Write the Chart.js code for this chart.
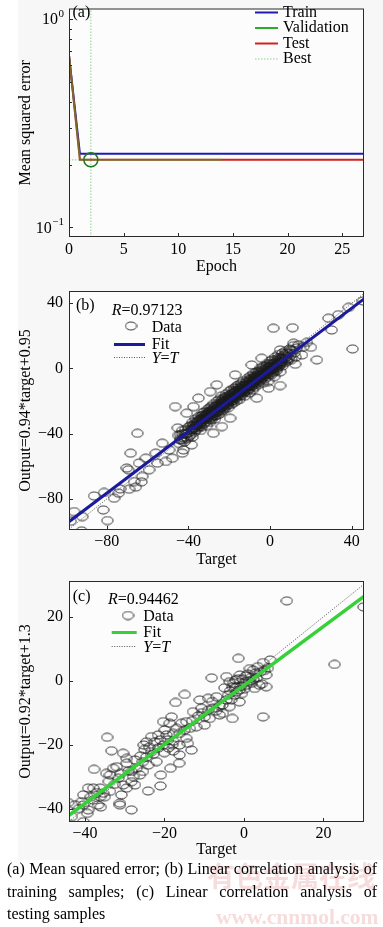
<!DOCTYPE html>
<html>
<head>
<meta charset="utf-8">
<title>Network performance and regression</title>
<script src="https://cdn.jsdelivr.net/npm/chart.js@4.4.1/dist/chart.umd.min.js"></script>
<style>
  html, body { margin: 0; padding: 0; background: #fff; }
  body { position: relative; width: 383px; height: 927px; overflow: hidden; font-family: "Liberation Serif", "Times New Roman", serif; }
  canvas { position: absolute; left: 0; }
  #mark { position: absolute; left: 207px; top: 861px; font: bold 28px/28px "Noto Sans CJK SC"; color: #f6dcdc; white-space: nowrap; }
  #mark2 { position: absolute; left: 216px; top: 906px; font: bold 21.5px/22px "Liberation Serif"; color: #f6dcdc; white-space: nowrap; }
  #caption { position: absolute; left: 7px; top: 858px; width: 370px; font-size: 16px; line-height: 22.5px; color: #000; }
  #caption div { text-align: justify; text-align-last: justify; white-space: nowrap; }
  #caption div.last { text-align-last: left; }
</style>
</head>
<body>
<canvas id="mse" width="383" height="285" style="top:0"></canvas>
<canvas id="train" width="383" height="290" style="top:285px"></canvas>
<canvas id="test" width="383" height="285" style="top:575px"></canvas>
<div id="mark">有色金属在线</div>
<div id="mark2">www.cnnmol.com</div>
<div id="caption">
  <div>(a) Mean squared error; (b) Linear correlation analysis of</div>
  <div>training samples; (c) Linear correlation analysis of</div>
  <div class="last">testing samples</div>
</div>
<script>
// (a) performance curves
const epochs = [0, 1, 2, 3, 4, 5, 6, 7, 8, 9, 10, 11, 12, 13, 14, 15, 16, 17, 18, 19, 20, 21, 22, 23, 24, 25, 26, 27];
const trainMse = [0.67, 0.226, 0.226, 0.226, 0.226, 0.226, 0.226, 0.226, 0.226, 0.226, 0.226, 0.226, 0.226, 0.226,
  0.226, 0.226, 0.226, 0.226, 0.226, 0.226, 0.226, 0.226, 0.226, 0.226, 0.226, 0.226, 0.226, 0.226];
const validMse = [0.67, 0.211, 0.211, 0.211, 0.211, 0.211, 0.211, 0.211, 0.211, 0.211, 0.211, 0.211, 0.211, 0.211, 0.211];
const testMse = [0.67, 0.211, 0.211, 0.211, 0.211, 0.211, 0.211, 0.211, 0.211, 0.211, 0.211, 0.211, 0.211, 0.211,
  0.211, 0.211, 0.211, 0.211, 0.211, 0.211, 0.211, 0.211, 0.211, 0.211, 0.211, 0.211, 0.211, 0.211];
const bestEpoch = 2;
const bestMse = 0.211;
const epochTicks = [0, 5, 10, 15, 20, 25];
const mseTicks = [0.1, 0.2, 0.3, 0.4, 0.5, 0.6, 0.7, 0.8, 0.9, 1];

// (b) training samples [target, output]
const trainPoints = [
  [-97.7, -93.6], [-96, -87.7], [-92, -90.8], [-92.3, -99.5], [-86.2, -78.1], [-81.3, -76], [-81.7, -86.7],
  [-79.7, -93.2], [-76.4, -79.5], [-74.2, -76.4], [-73.5, -73.8], [-69.1, -74], [-70.2, -61], [-69.4, -62.1],
  [-68.3, -51.9], [-66.6, -69.3], [-65.8, -72.7], [-65, -39.7], [-64.2, -58], [-63, -69.5], [-62.6, -66.2],
  [-60.9, -55], [-59.3, -62.1], [-56, -51.9], [-55.2, -58], [-52.8, -45.8], [-51.1, -57], [-49.5, -49.9],
  [-47.9, -55], [-46.5, -23.4], [-45.2, -36.4], [-43.7, -43.8], [-43, -51.9], [-42.5, -49.9], [-41.3, -39.7],
  [-38.4, -46.8],
  [45.5, 41.4], [40.4, 12], [38.5, 37.5], [33.5, 33], [28.6, 30.8], [30.2, 23.6], [22.9, 5.3], [16.4, 13.4],
  [15.6, 8.3], [12.3, 2.6], [11.5, 15.5], [11, 25], [1.6, 24.7], [4.9, 11.4], [4.9, -10.5], [-0.8, -12.1],
  [-6.5, -18.2], [-4.1, 6.3], [-9, 2.2], [-17.1, -3.9], [-26.1, -10], [-29.4, -14.2], [-35.1, -18.2],
  [-37.5, -23.4], [-40.8, -27.4], [-27.8, -39.7], [-23.6, -35.6], [-19.6, -30.5], [14, 14.5], [18, 16], [20, 13],
  [-45, -41], [-44.5, -46], [-44, -40.5], [-43.5, -44], [-43, -38], [-42.5, -42.5], [-42, -45], [-41.5, -37.5],
  [-41, -40], [-40.5, -43], [-40, -36], [-40, -39.5], [-39.5, -41.5], [-39, -35], [-38.5, -38], [-38, -42],
  [-38, -33], [-37.5, -36.5], [-37, -39], [-36.5, -31], [-36.5, -35], [-36, -37.5], [-35.5, -33], [-35, -36],
  [-35, -29.5], [-34.5, -31.5], [-34, -35], [-34, -38], [-33.5, -29], [-33, -32], [-33, -27], [-32.5, -34],
  [-32, -30], [-32, -26.5], [-31.5, -31], [-31, -28], [-31, -35], [-30.5, -25], [-30.5, -29.5], [-30, -31.5],
  [-30, -27], [-29.5, -24], [-29.5, -33], [-29, -28.5], [-29, -26], [-28.5, -30], [-28.5, -23], [-28, -27],
  [-28, -25], [-27.5, -29], [-27.5, -21.5], [-27, -25.5], [-27, -31], [-26.5, -23], [-26.5, -27], [-26, -20],
  [-26, -24.5], [-25.5, -26], [-25.5, -28.5], [-25, -22], [-25, -19], [-24.5, -24], [-24.5, -27.5], [-24, -21],
  [-24, -17], [-23.5, -23.5], [-23.5, -26], [-23, -20], [-23, -18.5], [-22.5, -22], [-22.5, -25], [-22, -17.5],
  [-22, -20.5], [-21.5, -23], [-21.5, -15.5], [-21, -19], [-21, -21.5], [-20.5, -17], [-20.5, -24], [-20, -14],
  [-20, -18.5], [-19.5, -20.5], [-19.5, -16], [-19, -22], [-19, -13], [-18.5, -17.5], [-18.5, -19.5], [-18, -15],
  [-18, -21], [-17.5, -12], [-17.5, -16.5], [-17, -18], [-17, -14], [-16.5, -20], [-16.5, -11], [-16, -15.5],
  [-16, -17], [-15.5, -13], [-15.5, -10], [-15, -16], [-15, -19], [-14.5, -12], [-14.5, -14.5], [-14, -9],
  [-14, -16.5], [-13.5, -13], [-13.5, -11], [-13, -15], [-13, -7.5], [-12.5, -12], [-12.5, -17], [-12, -10],
  [-12, -13.5], [-11.5, -8], [-11.5, -11.5], [-11, -14], [-11, -6], [-10.5, -10.5], [-10.5, -12.5], [-10, -7],
  [-10, -15], [-9.5, -9.5], [-9.5, -4.5], [-9, -11], [-9, -8], [-8.5, -13], [-8.5, -6], [-8, -9], [-8, -3],
  [-7.5, -7.5], [-7.5, -11.5], [-7, -5], [-7, -9.5], [-6.5, -2], [-6.5, -7], [-6, -10], [-6, -4], [-5.5, -6],
  [-5.5, -8.5], [-5, -1.5], [-5, -4.5], [-4.5, -7.5], [-4.5, 0.5], [-4, -3.5], [-4, -6], [-3.5, -1], [-3.5, -9],
  [-3, -4], [-3, 1.5], [-2.5, -2.5], [-2.5, -6.5], [-2, 0], [-2, -3], [-1.5, 3], [-1.5, -5], [-1, -1.5], [-1, -8],
  [-0.5, 1], [-0.5, -3.5], [0, 4.5], [0, -1], [0.5, -4], [0.5, 2], [1, -0.5], [1, 5.5], [1.5, 1.5], [1.5, -2.5],
  [2, 3.5], [2, -5], [2.5, 0.5], [2.5, 7], [3, 2], [3, -1.5], [3.5, 5], [4, 1], [4, 8.5], [4.5, 3.5], [5, -2],
  [5, 6], [5.5, 4], [6, 9.5], [6, 1.5], [6.5, 6.5], [7, 3.5], [7.5, 10.5], [8, 7], [8.5, 4.5], [9, 9], [9.5, 12],
  [10, 8], [10.5, 5.5], [11, 11], [11.5, 14], [12, 9.5], [13, 12.5], [12.5, 7],
  [-38, -37], [-37.5, -34.5], [-37, -36.5], [-36.5, -33.5], [-36, -35], [-35.5, -34.5], [-35, -32.5], [-34.5, -34],
  [-34, -31], [-33.5, -33], [-33, -30.5], [-32.5, -31], [-32, -29], [-31.5, -28.5], [-31, -30.5], [-30.5, -27.5],
  [-30, -29], [-29.5, -28], [-29, -26.5], [-28.5, -27.5], [-28, -29], [-27.5, -25], [-27, -27], [-26.5, -25.5],
  [-26, -26.5], [-25.5, -23], [-25, -25], [-24.5, -22.5], [-24, -23.5], [-23.5, -21], [-23, -22.5], [-22.5, -20],
  [-22, -22], [-21.5, -19.5], [-21, -20.5], [-20.5, -20], [-20, -19.5], [-19.5, -17.5], [-19, -18.5], [-18.5, -16],
  [-18, -18], [-17.5, -15], [-17, -16.5], [-16.5, -14], [-16, -16], [-15.5, -15], [-15, -13.5], [-14.5, -15],
  [-14, -12.5], [-13.5, -14], [-13, -11.5], [-12.5, -10.5], [-12, -12], [-11.5, -10], [-11, -11], [-10.5, -8.5],
  [-10, -10], [-9.5, -11], [-9, -7.5], [-8.5, -9], [-8, -7], [-7.5, -5.5], [-7, -7.5], [-6.5, -5], [-6, -6.5],
  [-5.5, -3.5], [-5, -6], [-4.5, -4.5], [-4, -2], [-3.5, -4.5], [-3, -2.5], [-2.5, -1], [-2, -3.5], [-1.5, -1],
  [-1, 0.5], [-0.5, -1.5], [0, 1], [0.5, -0.5], [1, 2.5], [1.5, 0], [2, 1.5], [2.5, 3.5], [3, 0.5], [3.5, 2.5],
  [4, 4], [4.5, 2], [5, 4.5], [5.5, 6], [6, 4], [7, 6], [8, 5.5],
  [-44, -43], [-42.8, -40], [-41.2, -42], [-39.8, -38], [-38.8, -40.5], [-37.8, -35], [-36.8, -37.5], [-35.8, -32],
  [-34.8, -34.5], [-33.8, -36], [-32.8, -28.5], [-31.8, -33], [-30.8, -30], [-29.8, -26], [-28.8, -31.5],
  [-27.8, -26.5], [-26.8, -29], [-25.8, -22], [-24.8, -26], [-23.8, -19.5], [-22.8, -24], [-21.8, -18],
  [-20.8, -22.5], [-19.8, -16.5], [-18.8, -20], [-17.8, -14], [-16.8, -18.5], [-15.8, -12], [-14.8, -17],
  [-13.8, -10.5], [-12.8, -14.5], [-11.8, -9], [-10.8, -13], [-9.8, -6.5], [-8.8, -10.5], [-7.8, -4.5], [-6.8, -8],
  [-5.8, -2.5], [-4.8, -7], [-3.8, 0], [-2.8, -5], [-1.8, 1.5], [-0.8, -2.5], [0.2, 3], [1.2, -2], [2.2, 5],
  [3.2, -0.5], [4.2, 6.5], [5.2, 2.5], [6.2, 7.5], [7.2, 8.5], [8.2, 9.5], [9.2, 6], [10.2, 11.5], [-33.2, -31],
  [-27.2, -23.5], [-23.2, -22], [-19.2, -18], [-15.2, -14], [-11.2, -12], [-7.2, -6], [-3.2, -3], [0.8, 0],
  [-29.2, -30.5], [-25.2, -24.5], [-21.2, -20], [-17.2, -17], [-13.2, -13], [-9.2, -9], [-5.2, -5], [-1.2, -1.5],
  [2.8, 2]
];
const trainFitX = [-98.5, 46];
const trainFitY = [-93.9, 42.6];
const trainR = '0.97123';
const trainTicks = [-80, -40, 0, 40];

// (c) testing samples [target, output]
const testPoints = [
  [10.8, 25], [30.1, 23.1], [22.8, 5.1], [4.8, -11.3], [-1.4, 7], [-8.1, 0.9], [-14.9, -4.3], [-17.2, -6.8],
  [-34.4, -17.7], [-33.3, -21.9], [-37.7, -27.7], [-44.2, -38.1], [-40.4, -44.1], [-28.3, -40.4], [-24.1, -34.5],
  [-21, -32.9], [-20.9, -29.5], [-18.5, -27.4], [-16.3, -25.8], [-16.2, -23.2], [-31.2, -38.3],
  [1, 2.1], [2.3, 3.3], [3.5, 4.4], [4.8, 5.7], [6.6, 6.5], [5.6, 1.8], [3.9, -1.4], [0.6, -1.4], [-1.1, -2.9],
  [-2.8, -1.9], [-3.2, -6], [-2.9, -11.8], [-5.3, -10.2], [-6.1, -7.8], [-6.9, -5], [-9.9, -11.3], [-9, -9.2],
  [-10.7, -8.6], [-9, -5.5], [-4.9, -2.2], [-3.6, -0.3], [-2.1, 0.2], [-0.3, 0.5], [2.4, 0.5], [1.3, -0.1],
  [2.7, -2.4], [5.6, -1.9], [-4.4, 1.3], [6, 3.9],
  [-16.2, -16.5], [-17.8, -18.9], [-17.8, -22], [-20.3, -20.1], [-22.4, -19.1], [-24.5, -19.1], [-25.2, -20.1],
  [-24.1, -26.4], [-25.4, -25.3], [-27.4, -24.8], [-22, -25.3], [-19.9, -15.4], [-18.7, -13.3], [-18.2, -11.3],
  [-20.3, -12.8], [-21.6, -17], [-23.3, -17.5], [-14.5, -12.8], [-13.6, -14.9], [-12.8, -9.7], [-11.1, -6],
  [-14.5, -18], [-13.2, -21.7], [-14.1, -19.6], [-16.2, -20.1], [-15.7, -13.3], [-17, -14.9], [-19.5, -17],
  [-19.1, -18.5], [-17.8, -16.5], [-12, -14.4], [-9.9, -13.9], [-8.6, -11.8], [-7.8, -8.6], [-6.1, -10.7],
  [-5.4, -7.6], [-4.4, -6], [-3.6, -8.1], [-2.3, -4.5], [-1.1, -6.6],
  [-28.3, -28.4], [-29.5, -25.8], [-29.5, -24.3], [-30.4, -22.7], [-32, -26.9], [-32.9, -27.4], [-33.7, -29.5],
  [-34.6, -29], [-27.9, -30], [-27.4, -32.6], [-29.5, -33.6], [-30.4, -32.6], [-31.6, -30.5], [-28.3, -31.6],
  [-26.2, -29.5], [-27, -27.4], [-25.4, -28.4], [-24.5, -23.8], [-23.3, -22.2], [-35.4, -35.2], [-36.2, -36.3],
  [-36.7, -38.9], [-37.9, -37.3], [-39.2, -33.6], [-37.9, -33.6], [-40.4, -35.7], [-40.4, -38.9], [-39.2, -40.4],
  [-39.4, -41.5], [-40.8, -37.8], [-31.2, -38.9], [-33.7, -34.6], [-36.2, -33.6], [-35, -36.3], [-32.5, -32.4],
  [-30.8, -35.7], [-43.3, -42.5],
  [-1.8, -3.5], [-0.8, -1.8], [0.2, -2.5], [-2.5, -0.8], [1.8, 1], [3, 2.5], [-1.5, 0.5], [0.5, 1.5], [-3.5, -3.2],
  [-0.5, -4], [2, -0.8], [4.2, 2.8], [-2, -2], [1.5, 3.8], [-4, -4.5], [3.2, 0.8], [0, -0.8], [-1, 1.8], [4.5, -1],
  [5.2, 3.2], [-21.5, -21], [-20, -22.5], [-19, -21], [-18, -20], [-22.8, -23], [-21, -18.5], [-15, -15.5],
  [-13, -12.5], [-11.5, -11], [-10.5, -10], [-8, -6.5], [-7, -9.5], [-25, -21.5], [-26, -23.5], [-23.8, -20.8],
  [-38.5, -36.3], [-37, -35], [-41.5, -40], [-42.5, -38.8], [-36, -39.5], [-34, -31.5], [-31, -29], [-29, -28.2]
];
const testFitX = [-44, 30.2];
const testFitY = [-42.1, 26.4];
const testR = '0.94462';
const testTicks = [-40, -20, 0, 20];

const serif = '"Liberation Serif", "Times New Roman", serif';
const mseMin = 0.0899, mseMax = 1.125;

// open ellipse used as the data marker
function ring() {
  const c = document.createElement('canvas');
  c.width = 13; c.height = 10;
  const g = c.getContext('2d');
  g.strokeStyle = 'rgba(30,30,30,0.9)';
  g.lineWidth = 1;
  g.beginPath();
  g.ellipse(6.5, 5, 5.6, 4, 0, 0, Math.PI * 2);
  g.stroke();
  return c;
}
const ringMark = ring();

function put(ctx, str, x, y, opt = {}) {
  ctx.font = (opt.italic ? 'italic ' : '') + (opt.size || 16) + 'px ' + serif;
  ctx.fillStyle = opt.color || '#000';
  ctx.textAlign = opt.align || 'left';
  ctx.textBaseline = 'middle';
  ctx.fillText(str, x, y);
  return x + ctx.measureText(str).width;
}

function seg(ctx, x0, x1, y, color, width, dash) {
  ctx.save();
  ctx.strokeStyle = color;
  ctx.lineWidth = width;
  ctx.setLineDash(dash || []);
  ctx.beginPath();
  ctx.moveTo(x0, y);
  ctx.lineTo(x1, y);
  ctx.stroke();
  ctx.restore();
}

const minus = v => (v < 0 ? '\u2212' + Math.abs(v) : String(v));

function axis(min, max, ticks, title, size, titlePad, horizontal, labelPad) {
  return {
    type: 'linear', min: min, max: max,
    afterBuildTicks: s => { s.ticks = ticks.map(v => ({ value: v })); },
    afterFit: s => {
      if (horizontal) s.height = size; else s.width = size;
      s.paddingLeft = s.paddingRight = s.paddingTop = s.paddingBottom = 0;
    },
    grid: { display: false, drawTicks: false },
    border: { display: false },
    ticks: { color: '#000', font: { family: serif, size: 16 }, padding: labelPad, maxRotation: 0, autoSkip: false, callback: minus },
    title: { display: true, text: title, color: '#000', font: { family: serif, size: 16 }, padding: titlePad }
  };
}

// background, box and inward tick marks
const framePlugin = {
  id: 'frame',
  beforeDraw(chart) {
    const { ctx, chartArea: a, width, height } = chart;
    ctx.save();
    ctx.fillStyle = '#f7f7f7';
    ctx.fillRect(18, 0, width - 18, height);
    ctx.fillStyle = '#fcfcfc';
    ctx.fillRect(a.left, a.top, a.right - a.left, a.bottom - a.top);
    ctx.restore();
  },
  afterDraw(chart) {
    const { ctx, chartArea: a, scales } = chart;
    ctx.save();
    ctx.strokeStyle = '#2a2a2a';
    ctx.lineWidth = 1;
    ctx.strokeRect(a.left + 0.5, a.top + 0.5, a.right - a.left - 1, a.bottom - a.top - 1);
    ctx.beginPath();
    scales.x.ticks.forEach(t => {
      const px = Math.round(scales.x.getPixelForValue(t.value)) + 0.5;
      ctx.moveTo(px, a.bottom);
      ctx.lineTo(px, a.bottom - 4);
    });
    scales.y.ticks.forEach(t => {
      const py = Math.round(scales.y.getPixelForValue(t.value)) + 0.5;
      const len = scales.y.type === 'logarithmic' && t.value !== 0.1 && t.value !== 1 ? 3 : 4;
      ctx.moveTo(a.left, py);
      ctx.lineTo(a.left + len, py);
    });
    ctx.stroke();
    ctx.restore();
  }
};

const baseOptions = (top) => ({
  responsive: false,
  animation: false,
  events: [],
  layout: { padding: { top: top, right: 19, left: 0, bottom: 0 } },
  plugins: { legend: { display: false }, tooltip: { enabled: false } }
});

// ---------- (a) mean squared error ----------
const xy = (xs, ys) => ys.map((v, i) => ({ x: xs[i], y: v }));
const perfSeries = [
  { label: 'Train', color: '#1c1cb0' },
  { label: 'Validation', color: '#2eaa2e' },
  { label: 'Test', color: '#d22222' },
  { label: 'Best', color: '#8fd08f', dash: [1.5, 1.5] }
];

new Chart(document.getElementById('mse'), {
  type: 'scatter',
  data: {
    datasets: [
      { label: 'Train', data: xy(epochs, trainMse), showLine: true, borderColor: '#1c1cb0', borderWidth: 2, pointRadius: 0, order: 4 },
      { label: 'Test', data: xy(epochs, testMse), showLine: true, borderColor: '#d22222', borderWidth: 2, pointRadius: 0, order: 3 },
      { label: 'Validation', data: xy(epochs, validMse), showLine: true, borderColor: 'rgba(46,170,46,0.5)', borderWidth: 2, pointRadius: 0, order: 2 },
      { label: 'Best', data: [{ x: epochs[0], y: bestMse }, { x: epochs[epochs.length - 1], y: bestMse }], showLine: true,
        borderColor: '#8fd08f', borderWidth: 1, borderDash: [1.5, 1.5], pointRadius: 0, order: 6 },
      { label: 'Best epoch', data: [{ x: bestEpoch, y: mseMin }, { x: bestEpoch, y: mseMax }], showLine: true,
        borderColor: '#8fd08f', borderWidth: 1, borderDash: [1.5, 1.5], pointRadius: 0, order: 6 },
      { label: 'Best point', data: [{ x: bestEpoch, y: bestMse }], pointRadius: 7, pointBorderColor: '#1a7a1a',
        pointBorderWidth: 1.5, pointBackgroundColor: 'rgba(0,0,0,0)', order: 1 }
    ]
  },
  options: Object.assign(baseOptions(1), {
    scales: {
      x: axis(0, 27, epochTicks, 'Epoch', 48, { top: 0, bottom: 8.7 }, true, 3),
      y: {
        type: 'logarithmic', min: mseMin, max: mseMax,
        afterBuildTicks: s => { s.ticks = mseTicks.map(v => ({ value: v })); },
        afterFit: s => { s.width = 69; s.paddingLeft = s.paddingRight = s.paddingTop = s.paddingBottom = 0; },
        grid: { display: false, drawTicks: false },
        border: { display: false },
        ticks: { display: false },
        title: { display: true, text: 'Mean squared error', color: '#000', font: { family: serif, size: 16 }, padding: { top: 16.4, bottom: 0 } }
      }
    }
  }),
  plugins: [framePlugin, {
    id: 'perfNotes',
    afterDraw(chart) {
      const { ctx, scales: { y } } = chart;
      ctx.save();
      put(ctx, '(a)', 72.5, 13);
      [[1, '0'], [0.1, '\u22121']].forEach(([v, e]) => {
        const py = y.getPixelForValue(v);
        ctx.font = '11px ' + serif;
        const w = ctx.measureText(e).width;
        put(ctx, e, 64, py - 5, { size: 11, align: 'right' });
        put(ctx, '10', 64 - w - 0.5, py + 1, { align: 'right' });
      });
      const rows = [12.5, 28, 43.5, 59];
      perfSeries.forEach((s, i) => {
        seg(ctx, 255, 278, rows[i], s.color, s.dash ? 1 : 2, s.dash);
        put(ctx, s.label, 283, rows[i]);
      });
      ctx.restore();
    }
  }]
});

// ---------- (b), (c) regression plots ----------
function regression(id, points, fitX, fitY, r, fitColor, lim, ticks, sizes, notes) {
  const span = [Math.max(lim.x[0], lim.y[0]), Math.min(lim.x[1], lim.y[1])];
  new Chart(document.getElementById(id), {
    type: 'scatter',
    data: {
      datasets: [
        { label: 'Data', data: points.map(p => ({ x: p[0], y: p[1] })), pointStyle: ringMark, pointRadius: 5, order: 3 },
        { label: 'Y=T', data: [{ x: span[0], y: span[0] }, { x: span[1], y: span[1] }], showLine: true,
          borderColor: '#555', borderWidth: 1, borderDash: [1, 1.5], pointRadius: 0, order: 2 },
        { label: 'Fit', data: xy(fitX, fitY), showLine: true, borderColor: fitColor, borderWidth: sizes.fitWidth, pointRadius: 0, order: 1 }
      ]
    },
    options: Object.assign(baseOptions(6), {
      scales: {
        x: axis(lim.x[0], lim.x[1], ticks, 'Target', sizes.xh, { top: 0, bottom: sizes.xtp }, true, sizes.xlp),
        y: axis(lim.y[0], lim.y[1], ticks, sizes.ytitle, 69, { top: 15.9, bottom: 0 }, false, 6)
      }
    }),
    plugins: [framePlugin, {
      id: 'corrNotes',
      afterDraw(chart) {
        const ctx = chart.ctx;
        const n = notes;
        ctx.save();
        put(ctx, n.tag, n.tagX, n.tagY);
        const rx = put(ctx, 'R', n.rX, n.rY, { italic: true });
        put(ctx, '=' + r, rx, n.rY);
        ctx.drawImage(ringMark, n.markX - ringMark.width / 2, n.rows[0] - 1.5 - ringMark.height / 2);
        put(ctx, 'Data', n.textX, n.rows[0]);
        seg(ctx, n.lineX[0], n.lineX[1], n.rows[1], fitColor, 3);
        put(ctx, 'Fit', n.textX, n.rows[1]);
        seg(ctx, n.lineX[0], n.lineX[1], n.rows[2] - 1, '#555', 1, [1, 1.5]);
        let tx = put(ctx, 'Y', n.textX, n.rows[2], { italic: true });
        tx = put(ctx, '=', tx, n.rows[2]);
        put(ctx, 'T', tx, n.rows[2], { italic: true });
        ctx.restore();
      }
    }]
  });
}

regression('train', trainPoints, trainFitX, trainFitY, trainR, '#1a1a9c',
  { x: [-98.5, 46], y: [-99, 47.5] }, trainTicks,
  { xh: 45, xtp: 5.4, xlp: 2, fitWidth: 3, ytitle: 'Output=0.94*target+0.95' },
  { tag: '(b)', tagX: 76, tagY: 20.7, rX: 111.7, rY: 26, markX: 131, textX: 151.7, lineX: [114, 145], rows: [42.5, 59.5, 73.5] });

regression('test', testPoints, testFitX, testFitY, testR, '#38d038',
  { x: [-44, 30.2], y: [-44.2, 31.2] }, testTicks,
  { xh: 38, xtp: 0.4, xlp: 2, fitWidth: 3.5, ytitle: 'Output=0.92*target+1.3' },
  { tag: '(c)', tagX: 72.7, tagY: 21.7, rX: 108, rY: 25, markX: 128, textX: 143.3, lineX: [111.7, 136.7], rows: [42, 57.5, 72.5] });
</script>
</body>
</html>
